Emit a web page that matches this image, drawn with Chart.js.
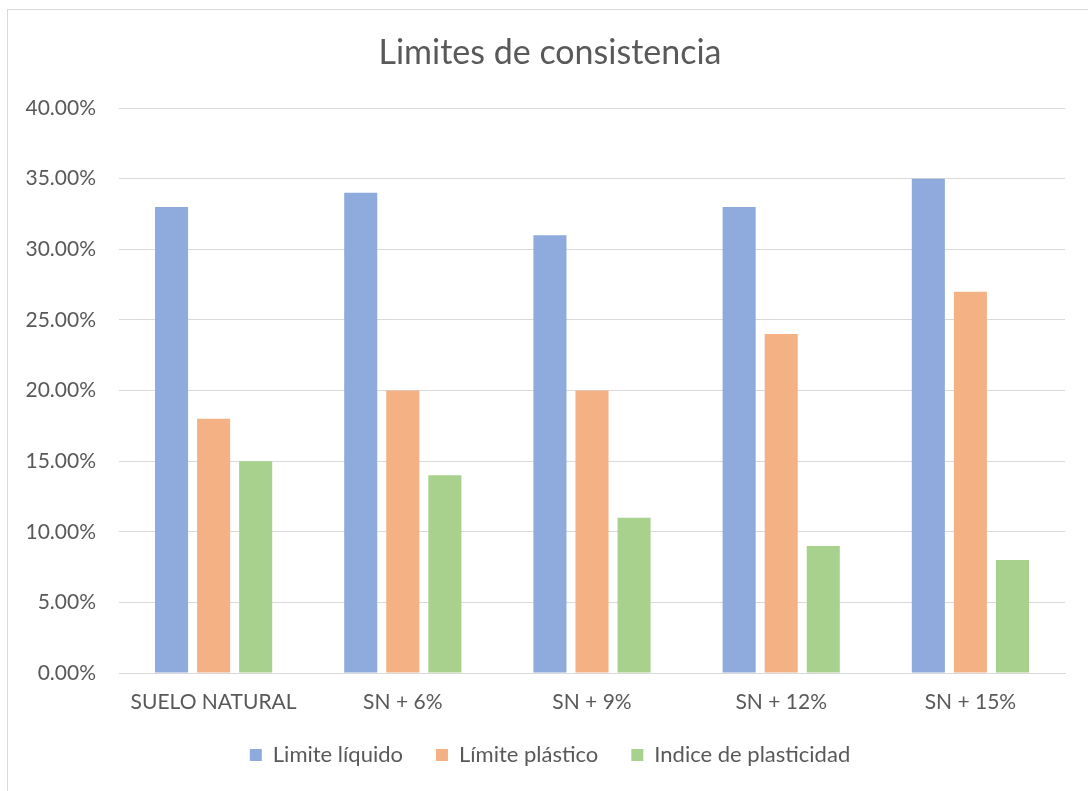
<!DOCTYPE html>
<html>
<head>
<meta charset="utf-8">
<script src="https://cdn.jsdelivr.net/npm/chart.js@4"></script>
<style>
  html, body { margin: 0; padding: 0; background: #fff; }
  #wrap { position: relative; width: 1088px; height: 791px; }
  #frame { position: absolute; left: 7px; top: 9px; right: 0; bottom: 0;
           border-left: 1px solid #d9d9d9; border-top: 1px solid #d9d9d9; pointer-events: none; }
</style>
</head>
<body>
<div id="wrap">
  <canvas id="chart" width="1088" height="791"></canvas>
  <div id="frame"></div>
</div>
<script>
// Limites de consistencia por mezcla
const CATEGORIES = ["SUELO NATURAL", "SN + 6%", "SN + 9%", "SN + 12%", "SN + 15%"];
const LIMITE_LIQUIDO = [33, 34, 31, 33, 35];
const LIMITE_PLASTICO = [18, 20, 20, 24, 27];
const INDICE_PLASTICIDAD = [15, 14, 11, 9, 8];
const SERIES_NAMES = ["Limite líquido", "Límite plástico", "Indice de plasticidad"];
const SERIES_COLORS = ["#8faadc", "#f4b183", "#a9d18e"];
const TITLE = "Limites de consistencia";

const FONT = "Lato, 'Liberation Sans', sans-serif";
const TEXT = "#595959";

// title and legend sit centred on the whole frame, not just the plot width
const FRAME_CENTER = 550;
const frameLayout = {
  id: "frameLayout",
  afterLayout(chart) {
    const lg = chart.legend;
    const shift = FRAME_CENTER - (lg.left + lg.right) / 2;
    lg.left += shift;
    lg.right += shift;
  },
  afterDraw(chart) {
    const c = chart.ctx;
    c.save();
    c.fillStyle = TEXT;
    c.font = "34px " + FONT;
    c.textAlign = "center";
    c.textBaseline = "middle";
    c.fillText(TITLE, FRAME_CENTER, 53);
    c.restore();
  },
};

const ctx = document.getElementById("chart").getContext("2d");
new Chart(ctx, {
  type: "bar",
  data: {
    labels: CATEGORIES,
    datasets: [LIMITE_LIQUIDO, LIMITE_PLASTICO, INDICE_PLASTICIDAD].map((vals, i) => ({
      label: SERIES_NAMES[i],
      data: vals,
      backgroundColor: SERIES_COLORS[i],
      borderWidth: 0,
      categoryPercentage: 0.667,
      barPercentage: 0.786,
    })),
  },
  plugins: [frameLayout],
  options: {
    responsive: false,
    animation: false,
    layout: { padding: { left: 8, right: 23, top: 108, bottom: 15 } },
    plugins: {
      title: { display: false },
      legend: {
        position: "bottom",
        labels: {
          color: TEXT,
          font: { family: FONT, size: 22 },
          boxWidth: 12,
          boxHeight: 12,
          padding: 33,
        },
      },
      tooltip: { enabled: false },
    },
    scales: {
      x: {
        grid: { display: false, drawTicks: false },
        border: { color: "#d9d9d9", width: 1 },
        ticks: { color: TEXT, font: { family: FONT, size: 21 }, padding: 17, maxRotation: 0 },
        afterFit(scale) { scale.height = 38; },
      },
      y: {
        min: 0,
        max: 40,
        grid: { color: "#d9d9d9", lineWidth: 1, drawTicks: false },
        border: { display: false },
        ticks: {
          stepSize: 5,
          color: TEXT,
          font: { family: FONT, size: 21 },
          padding: 23,
          callback: v => v.toFixed(2) + "%",
        },
        afterFit(scale) { scale.width = 111; },
      },
    },
  },
});
</script>
</body>
</html>
